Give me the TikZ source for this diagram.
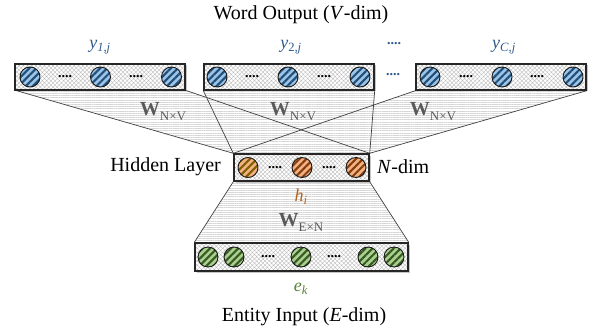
\documentclass[tikz,border=0pt]{standalone}
\usepackage{fontspec}
\setmainfont{Liberation Serif}
\usetikzlibrary{patterns,patterns.meta,shadows}
\pgfdeclarelayer{bg}
\pgfsetlayers{bg,main}
\definecolor{bluefill}{HTML}{9DC3E6}
\definecolor{bluestripe}{HTML}{1F4E79}
\definecolor{orgfill}{HTML}{F4B183}
\definecolor{orgstripe}{HTML}{843C0C}
\definecolor{olvstripe}{HTML}{7F6000}
\definecolor{grnfill}{HTML}{A9D18E}
\definecolor{grnstripe}{HTML}{385723}
\definecolor{ytext}{HTML}{2E5A8C}
\definecolor{htext}{HTML}{B4621E}
\definecolor{etext}{HTML}{548235}
\definecolor{wtext}{HTML}{595959}
\tikzset{
  layerbox/.style={drop shadow={shadow xshift=1.5pt,shadow yshift=-1.5pt,opacity=0.45},
    preaction={fill=white}, draw=black!85, line width=1.4pt,
    pattern={Hatch[angle=45,distance=3pt,line width=0.35pt]}, pattern color=black!28,
    inner sep=0pt, minimum height=26pt},
  unit/.style={circle, minimum size=20pt, inner sep=0pt, draw=black!90, line width=0.9pt,
    pattern={Lines[angle=45,distance=5pt,line width=2.1pt]}},
  blueunit/.style={unit, preaction={fill=bluefill}, pattern color=bluestripe},
  orgunit/.style={unit, preaction={fill=orgfill}, pattern color=orgstripe},
  olvunit/.style={unit, preaction={fill=orgfill}, pattern color=olvstripe},
  grnunit/.style={unit, preaction={fill=grnfill}, pattern color=grnstripe},
  dots/.style={font=\fontsize{14}{14}\selectfont\bfseries, inner sep=0pt},
  conn/.style={draw=black!75, line width=0.7pt},
  wfill/.style={fill=white, postaction={pattern={Lines[angle=0,distance=2.2pt,line width=0.6pt]}, pattern color=black!16}},
  big/.style={font=\fontsize{20}{24}\selectfont, inner sep=0pt},
  wlab/.style={font=\fontsize{20}{24}\selectfont, text=wtext, inner sep=0pt},
  ylab/.style={font=\fontsize{18}{20}\selectfont\itshape, text=ytext, inner sep=0pt},
}
\newcommand{\wsub}[1]{\textbf{W}\raisebox{-5pt}{\fontsize{13}{13}\selectfont #1}}
\begin{document}
\begin{tikzpicture}[x=1pt,y=-1pt]
\useasboundingbox (0,0) rectangle (593,331);
% title
\node[big] (title) at (301,15) {Word Output (\textit{V}-dim)};
% output boxes
\node[layerbox, minimum width=170pt] (o1) at (100,77) {};
\node[layerbox, minimum width=170pt] (o2) at (289,77) {};
\node[layerbox, minimum width=170pt] (o3) at (501,77) {};
\node[blueunit] (o1a) at (30,77) {};
\node[blueunit] (o1b) at (100.5,77) {};
\node[blueunit] (o1c) at (171.5,77) {};
\node[blueunit] (o2a) at (217,77) {};
\node[blueunit] (o2b) at (288,77) {};
\node[blueunit] (o2c) at (360,77) {};
\node[blueunit] (o3a) at (430,77) {};
\node[blueunit] (o3b) at (502,77) {};
\node[blueunit] (o3c) at (573,77) {};
\node[dots] (d1) at (65,77) {....};
\node[dots] (d2) at (136,77) {....};
\node[dots] (d3) at (252,77) {....};
\node[dots] (d4) at (324,77) {....};
\node[dots] (d5) at (466,77) {....};
\node[dots] (d6) at (537,77) {....};
\node[dots, text=ytext] (dmid) at (393,75) {....};
\node[ylab] (y1) at (100,47) {y\textsubscript{1,j}};
\node[ylab] (y2) at (291,47) {y\textsubscript{\upshape 2\itshape,j}};
\node[dots, text=ytext] (ydots) at (394,44) {....};
\node[ylab] (yc) at (504,47) {y\textsubscript{C,j}};
% hidden
\node[layerbox, minimum width=135pt, minimum height=27pt] (h) at (301.5,167.5) {};
\node[olvunit] (ha) at (248,167.5) {};
\node[orgunit] (hb) at (302,167.5) {};
\node[orgunit] (hc) at (356,167.5) {};
\node[dots] (hd1) at (275,167.5) {....};
\node[dots] (hd2) at (329,167.5) {....};
\node[big, anchor=east] (hl) at (221,167) {Hidden Layer};
\node[big, anchor=west] (nd) at (377,167) {\textit{N}-dim};
\node[font=\fontsize{18}{20}\selectfont\itshape, text=htext, inner sep=0pt] (hi) at (301,197) {h\textsubscript{i}};
% entity
\node[layerbox, minimum width=213pt, minimum height=28pt] (e) at (301.5,257) {};
\node[grnunit] (ea) at (208,257) {};
\node[grnunit] (eb) at (234,257) {};
\node[grnunit] (ec) at (301,257) {};
\node[grnunit] (ed) at (368,257) {};
\node[grnunit] (ee) at (394,257) {};
\node[dots] (ed1) at (268,257) {....};
\node[dots] (ed2) at (334,257) {....};
\node[font=\fontsize{18}{20}\selectfont\itshape, text=etext, inner sep=0pt] (ek) at (301,289) {e\textsubscript{k}};
\node[big] (ent) at (304,317) {Entity Input (\textit{E}-dim)};
% weight labels
\node[wlab] (w1) at (163,112) {\wsub{N×V}};
\node[wlab] (w2) at (293,112) {\wsub{N×V}};
\node[wlab] (w3) at (433,112) {\wsub{N×V}};
\node[wlab] (w4) at (301,222) {\wsub{E×N}};
% trapezoids and connectors
\begin{pgfonlayer}{bg}
\fill[wfill] (o1.south west) -- (o1.south east) -- (h.north east) -- (h.north west) -- cycle;
\fill[wfill] (o2.south west) -- (o2.south east) -- (h.north east) -- (h.north west) -- cycle;
\fill[wfill] (o3.south west) -- (o3.south east) -- (h.north east) -- (h.north west) -- cycle;
\fill[wfill] (h.south west) -- (h.south east) -- (e.north east) -- (e.north west) -- cycle;
\draw[conn] (o1.south west) -- (h.north west);
\draw[conn] (o1.south east) -- (h.north east);
\draw[conn] (o2.south west) -- (h.north west);
\draw[conn] (o2.south east) -- (h.north east);
\draw[conn] (o3.south west) -- (h.north west);
\draw[conn] (o3.south east) -- (h.north east);
\draw[conn] (h.south west) -- (e.north west);
\draw[conn] (h.south east) -- (e.north east);
\end{pgfonlayer}
\end{tikzpicture}
\end{document}
